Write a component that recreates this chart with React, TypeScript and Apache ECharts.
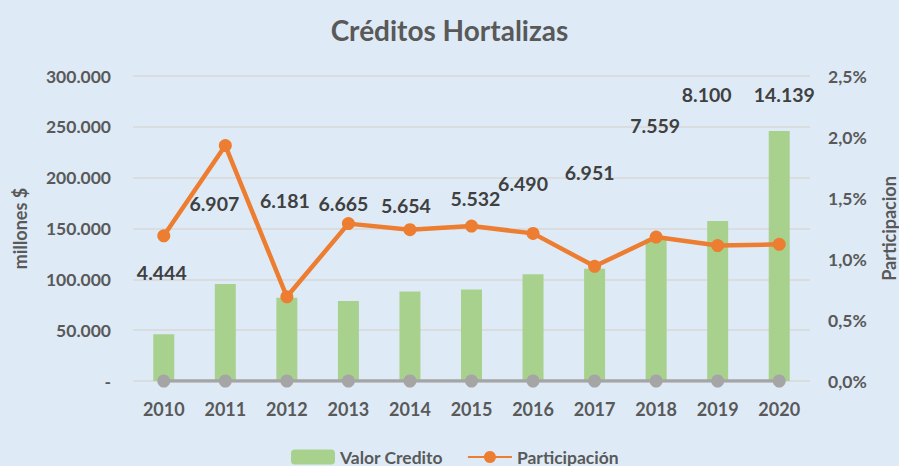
import React, { useEffect, useRef } from "react";
import * as echarts from "echarts";

const years = ["2010", "2011", "2012", "2013", "2014", "2015", "2016", "2017", "2018", "2019", "2020"];
const valorCredito = [46000, 95500, 82000, 78700, 88000, 90000, 105000, 110500, 140000, 157500, 246000];
const participacion = [1.19, 1.93, 0.69, 1.29, 1.24, 1.27, 1.21, 0.94, 1.18, 1.11, 1.12];
const numeroCreditos = ["4.444", "6.907", "6.181", "6.665", "5.654", "5.532", "6.490", "6.951", "7.559", "8.100", "14.139"];
const baseLine = [0, 0, 0, 0, 0, 0, 0, 0, 0, 0, 0];
// label placement (style): offsets in px relative to the base point
const labelOffsets: [number, number][] = [
  [-2, -109], [-11, -178], [-2, -181], [-5, -178], [-4, -176], [4, -183],
  [-10, -198], [-5, -209], [-1, -256], [-11, -287], [5, -287],
];

const FONT = "Lato, 'Open Sans', sans-serif";
const GREY = "#595959";

function fmtThousands(v: number): string {
  if (v === 0) return "-";
  return String(Math.round(v)).replace(/\B(?=(\d{3})+(?!\d))/g, ".");
}

export default function App() {
  const ref = useRef<HTMLDivElement>(null);
  useEffect(() => {
    if (!ref.current) return;
    const chart = echarts.init(ref.current, undefined, { renderer: "svg" });
    chart.setOption({
      animation: false,
      backgroundColor: "#DEEBF7",
      title: {
        text: "Créditos Hortalizas",
        left: "center",
        top: 11,
        textStyle: { fontFamily: FONT, fontSize: 28, fontWeight: "bold", color: GREY },
      },
      grid: { left: 133, right: 89, top: 76, bottom: 85, containLabel: false, outerBoundsMode: "none" },
      legend: {
        data: ["Valor Credito", "Participación"],
        bottom: 0,
        left: 291,
        padding: 0,
        itemWidth: 44,
        itemHeight: 15,
        itemGap: 24,
        textStyle: { fontFamily: FONT, fontSize: 17.5, fontWeight: "bold", color: GREY },
      },
      xAxis: {
        type: "category",
        data: years,
        axisLine: { show: false },
        axisTick: { show: false },
        axisLabel: { fontFamily: FONT, fontSize: 18, fontWeight: "bold", color: GREY, margin: 19 },
      },
      yAxis: [
        {
          type: "value",
          min: 0,
          max: 300000,
          interval: 50000,
          name: "millones $",
          nameLocation: "middle",
          nameGap: 104,
          nameTextStyle: { fontFamily: FONT, fontSize: 18, fontWeight: "bold", color: GREY },
          axisLine: { show: false },
          axisTick: { show: false },
          axisLabel: {
            fontFamily: FONT, fontSize: 17.5, fontWeight: "bold", color: GREY, margin: 22,
            formatter: (v: number) => fmtThousands(v),
          },
          splitLine: { lineStyle: { color: "#D9D9D9", width: 1.5 } },
        },
        {
          type: "value",
          min: 0,
          max: 2.5,
          interval: 0.5,
          name: "Participacion",
          nameLocation: "middle",
          nameGap: 70,
          nameRotate: 90,
          nameTextStyle: { fontFamily: FONT, fontSize: 18, fontWeight: "bold", color: GREY },
          axisLine: { show: false },
          axisTick: { show: false },
          axisLabel: {
            fontFamily: FONT, fontSize: 17.5, fontWeight: "bold", color: GREY, margin: 18,
            formatter: (v: number) => v.toFixed(1).replace(".", ",") + "%",
          },
          splitLine: { show: false },
        },
      ],
      series: [
        {
          name: "Valor Credito",
          type: "bar",
          data: valorCredito,
          barWidth: 21,
          itemStyle: { color: "#A9D18E" },
          z: 1,
        },
        {
          name: "Créditos",
          type: "line",
          data: baseLine.map((v, i) => ({
            value: v,
            label: {
              show: true,
              position: "inside",
              offset: labelOffsets[i],
              formatter: () => numeroCreditos[i],
              fontFamily: FONT,
              fontSize: 19.5,
              fontWeight: "bold",
              color: "#404040",
            },
          })),
          symbol: "circle",
          symbolSize: 13,
          lineStyle: { color: "#A5A5A5", width: 3.5 },
          itemStyle: { color: "#A5A5A5" },
          z: 3,
        },
        {
          name: "Participación",
          type: "line",
          yAxisIndex: 1,
          data: participacion,
          symbol: "circle",
          symbolSize: 13,
          lineStyle: { color: "#ED7D31", width: 4.5 },
          itemStyle: { color: "#ED7D31" },
          z: 4,
        },
      ],
    });
    return () => chart.dispose();
  }, []);
  return <div ref={ref} style={{ position: "fixed", left: 0, top: 0, width: 899, height: 466 }} />;
}
